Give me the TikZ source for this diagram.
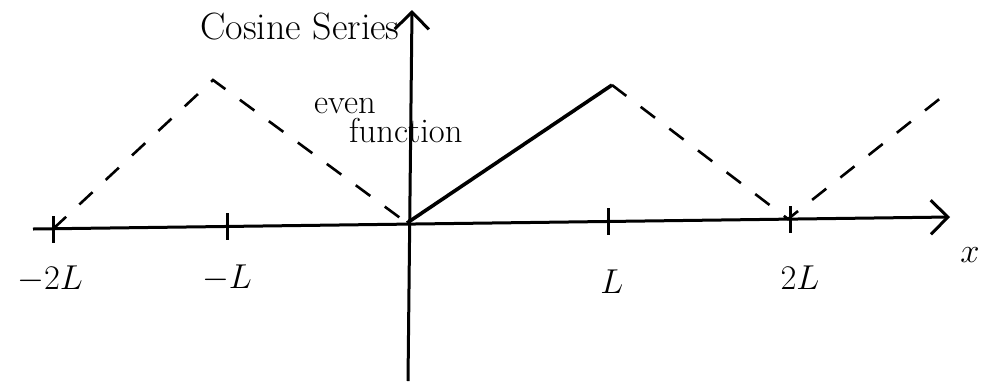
\documentclass[tikz,border=0pt]{standalone}
\usepackage{amsmath}
\usetikzlibrary{arrows.meta}

\begin{document}
\begin{tikzpicture}[x=0.5pt,y=-0.5pt,line width=1.5pt,>={Straight Barb[length=3mm,width=6mm]},
  ext/.style={dash pattern=on 9pt off 9pt,line width=1.3pt},
  lbl/.style={font=\LARGE}]
  \useasboundingbox (0,0) rectangle (984,381);
  % axes
  \coordinate (O) at (407,223);
  \coordinate (xl) at (33,229);
  \coordinate (xr) at (950,217);
  \coordinate (yb) at (408,381);
  \coordinate (yt) at (412,10);
  \draw[->] (xl)--(xr);
  \draw[->] (yb)--(yt);
  \foreach \x/\y/\t/\n in {53/229/-2L/mtwo,227/226/-L/mone,608/221/L/one,790/219/2L/two} {
    \draw (\x,\y-13)--(\x,\y+14);
  }
  \node[lbl] (lblmtwo) at (50,279) {$-2L$};
  \node[lbl] (lblmone) at (227,278) {$-L$};
  \node[lbl] (lblone) at (612,282) {$L$};
  \node[lbl] (lbltwo) at (800,278) {$2L$};
  \node[lbl] (xlbl) at (970,255) {$x$};
  % the given piece and its even extension
  \coordinate (P) at (612,85);
  \coordinate (Pl) at (213,80);
  \coordinate (Pr) at (947,93);
  \coordinate (Z) at (788,219);
  \draw[line width=1.8pt] (O)--(P);
  \draw[ext] (53,229)--(Pl)--(O);
  \draw[ext] (P)--(Z)--(Pr);
  \node[font=\fontsize{19}{22}\selectfont] (title) at (300,27) {Cosine Series};
  \node[lbl,anchor=west] (evenlbl) at (306,106) {even};
  \node[lbl,anchor=west] (funclbl) at (341,131) {function};
\end{tikzpicture}
\end{document}
